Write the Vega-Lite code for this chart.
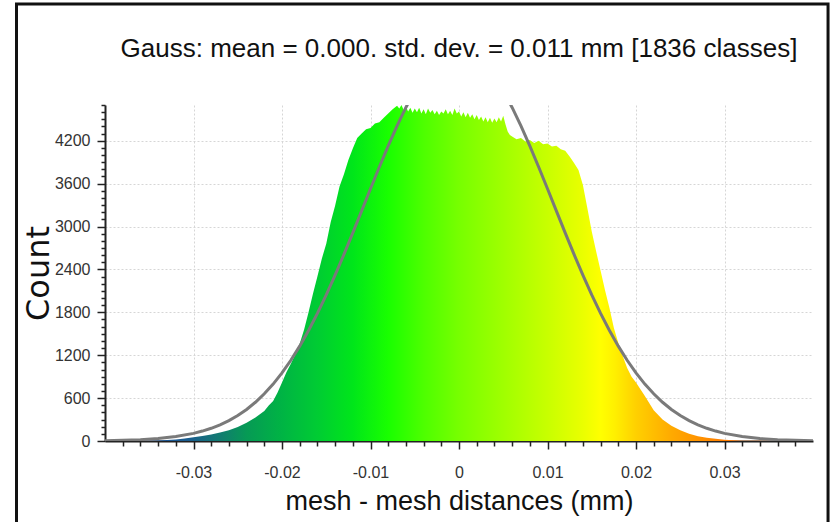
{
  "$schema": "https://vega.github.io/schema/vega-lite/v6.json",
  "width": 708,
  "height": 336,
  "autosize": {"type": "none"},
  "padding": {"left": 105, "top": 105, "right": 20, "bottom": 81},
  "background": "white",
  "title": {
    "text": "Gauss: mean = 0.000. std. dev. = 0.011 mm [1836 classes]",
    "font": "Liberation Sans, Arial, sans-serif",
    "fontSize": 26,
    "fontWeight": "normal",
    "color": "#111",
    "anchor": "middle",
    "frame": "group",
    "baseline": "alphabetic",
    "offset": -81
  },
  "config": {
    "view": {"stroke": null},
    "axis": {
      "labelFont": "Liberation Sans, Arial, sans-serif",
      "labelColor": "#333",
      "labelFontSize": 16,
      "domainColor": "#222",
      "domainWidth": 2,
      "tickColor": "#222",
      "tickWidth": 1.5,
      "tickCount": 200
    }
  },
  "datasets": {
    "hist": [
      {"x": -0.04, "count": 0}, {"x": -0.037, "count": 1}, {"x": -0.036, "count": 3}, {"x": -0.035, "count": 5},
      {"x": -0.034, "count": 8}, {"x": -0.033, "count": 14}, {"x": -0.032, "count": 22}, {"x": -0.031, "count": 35},
      {"x": -0.03, "count": 52}, {"x": -0.029, "count": 70}, {"x": -0.028, "count": 92}, {"x": -0.027, "count": 118},
      {"x": -0.026, "count": 150}, {"x": -0.025, "count": 195}, {"x": -0.024, "count": 255}, {"x": -0.023, "count": 330},
      {"x": -0.022, "count": 420}, {"x": -0.0215, "count": 495}, {"x": -0.021, "count": 560}, {"x": -0.0205, "count": 680},
      {"x": -0.02, "count": 820}, {"x": -0.0195, "count": 960}, {"x": -0.019, "count": 1080}, {"x": -0.0185, "count": 1210},
      {"x": -0.018, "count": 1360}, {"x": -0.0175, "count": 1560}, {"x": -0.017, "count": 1800}, {"x": -0.0165, "count": 2060},
      {"x": -0.016, "count": 2300}, {"x": -0.0155, "count": 2550}, {"x": -0.015, "count": 2760}, {"x": -0.0145, "count": 3060},
      {"x": -0.014, "count": 3290}, {"x": -0.0135, "count": 3560}, {"x": -0.013, "count": 3730}, {"x": -0.0125, "count": 3930},
      {"x": -0.012, "count": 4090}, {"x": -0.0115, "count": 4240}, {"x": -0.011, "count": 4300}, {"x": -0.0105, "count": 4360},
      {"x": -0.01, "count": 4380}, {"x": -0.0095, "count": 4440}, {"x": -0.009, "count": 4460}, {"x": -0.0085, "count": 4520},
      {"x": -0.008, "count": 4580}, {"x": -0.0075, "count": 4640}, {"x": -0.007, "count": 4690}, {"x": -0.00675, "count": 4650},
      {"x": -0.0065, "count": 4700}, {"x": -0.00625, "count": 4630}, {"x": -0.006, "count": 4680}, {"x": -0.00575, "count": 4610},
      {"x": -0.0055, "count": 4660}, {"x": -0.00525, "count": 4590}, {"x": -0.005, "count": 4650}, {"x": -0.00475, "count": 4600},
      {"x": -0.0045, "count": 4660}, {"x": -0.00425, "count": 4580}, {"x": -0.004, "count": 4640}, {"x": -0.00375, "count": 4570},
      {"x": -0.0035, "count": 4650}, {"x": -0.00325, "count": 4590}, {"x": -0.003, "count": 4630}, {"x": -0.00275, "count": 4570},
      {"x": -0.0025, "count": 4620}, {"x": -0.00225, "count": 4560}, {"x": -0.002, "count": 4610}, {"x": -0.00175, "count": 4580},
      {"x": -0.0015, "count": 4640}, {"x": -0.00125, "count": 4570}, {"x": -0.001, "count": 4620}, {"x": -0.00075, "count": 4560},
      {"x": -0.0005, "count": 4650}, {"x": -0.00025, "count": 4580}, {"x": 0, "count": 4610}, {"x": 0.00025, "count": 4540},
      {"x": 0.0005, "count": 4600}, {"x": 0.00075, "count": 4530}, {"x": 0.001, "count": 4590}, {"x": 0.00125, "count": 4520},
      {"x": 0.0015, "count": 4570}, {"x": 0.00175, "count": 4500}, {"x": 0.002, "count": 4560}, {"x": 0.00225, "count": 4490},
      {"x": 0.0025, "count": 4540}, {"x": 0.00275, "count": 4470}, {"x": 0.003, "count": 4530}, {"x": 0.00325, "count": 4460},
      {"x": 0.0035, "count": 4520}, {"x": 0.00375, "count": 4450}, {"x": 0.004, "count": 4510}, {"x": 0.00425, "count": 4460},
      {"x": 0.0045, "count": 4530}, {"x": 0.00475, "count": 4470}, {"x": 0.005, "count": 4550}, {"x": 0.00525, "count": 4430},
      {"x": 0.0055, "count": 4330}, {"x": 0.00575, "count": 4280}, {"x": 0.006, "count": 4260}, {"x": 0.0065, "count": 4220},
      {"x": 0.007, "count": 4240}, {"x": 0.0075, "count": 4190}, {"x": 0.008, "count": 4210}, {"x": 0.0085, "count": 4170},
      {"x": 0.009, "count": 4200}, {"x": 0.0095, "count": 4150}, {"x": 0.01, "count": 4160}, {"x": 0.0105, "count": 4120},
      {"x": 0.011, "count": 4130}, {"x": 0.0115, "count": 4080}, {"x": 0.012, "count": 4060}, {"x": 0.0125, "count": 3980},
      {"x": 0.013, "count": 3890}, {"x": 0.0135, "count": 3790}, {"x": 0.014, "count": 3580}, {"x": 0.0145, "count": 3260},
      {"x": 0.015, "count": 2930}, {"x": 0.0155, "count": 2650}, {"x": 0.016, "count": 2380}, {"x": 0.0165, "count": 2110},
      {"x": 0.017, "count": 1860}, {"x": 0.0175, "count": 1580}, {"x": 0.018, "count": 1370}, {"x": 0.0185, "count": 1190},
      {"x": 0.019, "count": 1020}, {"x": 0.0195, "count": 900}, {"x": 0.02, "count": 820}, {"x": 0.021, "count": 630},
      {"x": 0.022, "count": 430}, {"x": 0.023, "count": 300}, {"x": 0.024, "count": 215}, {"x": 0.025, "count": 150},
      {"x": 0.026, "count": 100}, {"x": 0.027, "count": 68}, {"x": 0.028, "count": 45}, {"x": 0.029, "count": 30},
      {"x": 0.03, "count": 18}, {"x": 0.031, "count": 10}, {"x": 0.032, "count": 5}, {"x": 0.034, "count": 2},
      {"x": 0.036, "count": 0}, {"x": 0.04, "count": 0}
    ],
    "gauss": [
      {"x": -0.04, "count": 5}, {"x": -0.038, "count": 10}, {"x": -0.036, "count": 19}, {"x": -0.034, "count": 35},
      {"x": -0.032, "count": 62}, {"x": -0.03, "count": 107}, {"x": -0.029, "count": 139}, {"x": -0.028, "count": 178},
      {"x": -0.027, "count": 226}, {"x": -0.026, "count": 285}, {"x": -0.025, "count": 356}, {"x": -0.024, "count": 441},
      {"x": -0.023, "count": 542}, {"x": -0.022, "count": 660}, {"x": -0.021, "count": 796}, {"x": -0.02, "count": 952},
      {"x": -0.019, "count": 1129}, {"x": -0.018, "count": 1327}, {"x": -0.017, "count": 1546}, {"x": -0.016, "count": 1785},
      {"x": -0.015, "count": 2044}, {"x": -0.014, "count": 2320}, {"x": -0.013, "count": 2610}, {"x": -0.012, "count": 2911},
      {"x": -0.011, "count": 3219}, {"x": -0.01, "count": 3528}, {"x": -0.009, "count": 3833}, {"x": -0.008, "count": 4129},
      {"x": -0.007, "count": 4408}, {"x": -0.006, "count": 4666}, {"x": -0.005, "count": 4895}, {"x": -0.004, "count": 5091},
      {"x": -0.003, "count": 5250}, {"x": -0.002, "count": 5365}, {"x": -0.001, "count": 5436}, {"x": 0, "count": 5460},
      {"x": 0.001, "count": 5436}, {"x": 0.002, "count": 5365}, {"x": 0.003, "count": 5250}, {"x": 0.004, "count": 5091},
      {"x": 0.005, "count": 4895}, {"x": 0.006, "count": 4666}, {"x": 0.007, "count": 4408}, {"x": 0.008, "count": 4129},
      {"x": 0.009, "count": 3833}, {"x": 0.01, "count": 3528}, {"x": 0.011, "count": 3219}, {"x": 0.012, "count": 2911},
      {"x": 0.013, "count": 2610}, {"x": 0.014, "count": 2320}, {"x": 0.015, "count": 2044}, {"x": 0.016, "count": 1785},
      {"x": 0.017, "count": 1546}, {"x": 0.018, "count": 1327}, {"x": 0.019, "count": 1129}, {"x": 0.02, "count": 952},
      {"x": 0.021, "count": 796}, {"x": 0.022, "count": 660}, {"x": 0.023, "count": 542}, {"x": 0.024, "count": 441},
      {"x": 0.025, "count": 356}, {"x": 0.026, "count": 285}, {"x": 0.027, "count": 226}, {"x": 0.028, "count": 178},
      {"x": 0.029, "count": 139}, {"x": 0.03, "count": 107}, {"x": 0.032, "count": 62}, {"x": 0.034, "count": 35},
      {"x": 0.036, "count": 19}, {"x": 0.038, "count": 10}, {"x": 0.04, "count": 5}
    ],
    "frame": [
      {"left": -0.05, "right": 0.0417, "top": 6113, "bottom": -3000}
    ]
  },
  "layer": [
    {
      "data": {"name": "hist"},
      "mark": {
        "type": "area",
        "clip": true,
        "color": {
          "gradient": "linear",
          "x1": 0, "x2": 1, "y1": 0, "y2": 0,
          "stops": [
            {"offset": 0.0, "color": "#1a3f8f"},
            {"offset": 0.06, "color": "#1a4f9a"},
            {"offset": 0.12, "color": "#1a5e8e"},
            {"offset": 0.16, "color": "#127a72"},
            {"offset": 0.2, "color": "#069a55"},
            {"offset": 0.25, "color": "#00b444"},
            {"offset": 0.3, "color": "#00cc33"},
            {"offset": 0.35, "color": "#00e61a"},
            {"offset": 0.4, "color": "#19ff00"},
            {"offset": 0.45, "color": "#4dff00"},
            {"offset": 0.5, "color": "#77ff00"},
            {"offset": 0.575, "color": "#a8ff00"},
            {"offset": 0.625, "color": "#c8ff00"},
            {"offset": 0.675, "color": "#eaff00"},
            {"offset": 0.7, "color": "#ffff00"},
            {"offset": 0.72, "color": "#fff000"},
            {"offset": 0.75, "color": "#ffd000"},
            {"offset": 0.8, "color": "#ffaa00"},
            {"offset": 0.85, "color": "#ff8c00"},
            {"offset": 0.9, "color": "#ff7000"},
            {"offset": 1.0, "color": "#ff6000"}
          ]
        }
      },
      "encoding": {
        "x": {
          "field": "x", "type": "quantitative",
          "scale": {"domain": [-0.04, 0.04], "nice": false, "zero": false},
          "axis": {
            "title": "mesh - mesh distances (mm)",
            "titleFont": "Liberation Sans, Arial, sans-serif",
            "titleFontSize": 27,
            "titleFontWeight": "normal",
            "titleColor": "#111",
            "titlePadding": 8,
            "tickCount": 200,
            "values": [-0.038, -0.036, -0.034, -0.032, -0.03, -0.028, -0.026, -0.024, -0.022, -0.02, -0.018, -0.016, -0.014, -0.012, -0.01, -0.008, -0.006, -0.004, -0.002, 0, 0.002, 0.004, 0.006, 0.008, 0.01, 0.012, 0.014, 0.016, 0.018, 0.02, 0.022, 0.024, 0.026, 0.028, 0.03, 0.032, 0.034, 0.036, 0.038],
            "format": ".2~f",
            "labelExpr": "abs(datum.value * 100 - round(datum.value * 100)) < 0.001 ? replace(datum.label, '\u2212', '-') : ''",
            "labelOverlap": false,
            "labelPadding": 15,
            "tickSize": {"condition": {"test": "abs(datum.value * 100 - round(datum.value * 100)) < 0.001", "value": 8}, "value": 5},
            "grid": true,
            "gridDash": [2, 2],
            "gridColor": {"condition": {"test": "abs(datum.value * 100 - round(datum.value * 100)) < 0.001", "value": "#d6d6d6"}, "value": "transparent"}
          }
        },
        "y": {
          "field": "count", "type": "quantitative",
          "scale": {"domain": [0, 4700], "nice": false},
          "axis": {
            "title": "Count",
            "titleFont": "DejaVu Sans, sans-serif",
            "titleFontSize": 32,
            "titleFontWeight": "normal",
            "titleColor": "#111",
            "titlePadding": -1,
            "tickCount": 200,
            "values": [0, 100, 200, 300, 400, 500, 600, 700, 800, 900, 1000, 1100, 1200, 1300, 1400, 1500, 1600, 1700, 1800, 1900, 2000, 2100, 2200, 2300, 2400, 2500, 2600, 2700, 2800, 2900, 3000, 3100, 3200, 3300, 3400, 3500, 3600, 3700, 3800, 3900, 4000, 4100, 4200, 4300, 4400, 4500, 4600, 4700],
            "format": "d",
            "labelExpr": "datum.value % 600 === 0 ? datum.label : ''",
            "labelOverlap": false,
            "labelPadding": 7,
            "tickSize": {"condition": {"test": "datum.value % 600 === 0", "value": 8}, "value": 4},
            "grid": true,
            "gridDash": [2, 2],
            "gridColor": {"condition": {"test": "datum.value % 600 === 0 && datum.value > 0", "value": "#d6d6d6"}, "value": "transparent"}
          }
        }
      }
    },
    {
      "data": {"name": "gauss"},
      "mark": {"type": "line", "clip": true, "color": "#7a7a7a", "strokeWidth": 3},
      "encoding": {
        "x": {"field": "x", "type": "quantitative"},
        "y": {"field": "count", "type": "quantitative"}
      }
    },
    {
      "data": {"name": "frame"},
      "mark": {"type": "rect", "clip": false, "fill": null, "fillOpacity": 0, "stroke": "#111", "strokeWidth": 3},
      "encoding": {
        "x": {"field": "left", "type": "quantitative"},
        "x2": {"field": "right"},
        "y": {"field": "top", "type": "quantitative"},
        "y2": {"field": "bottom"}
      }
    }
  ]
}
